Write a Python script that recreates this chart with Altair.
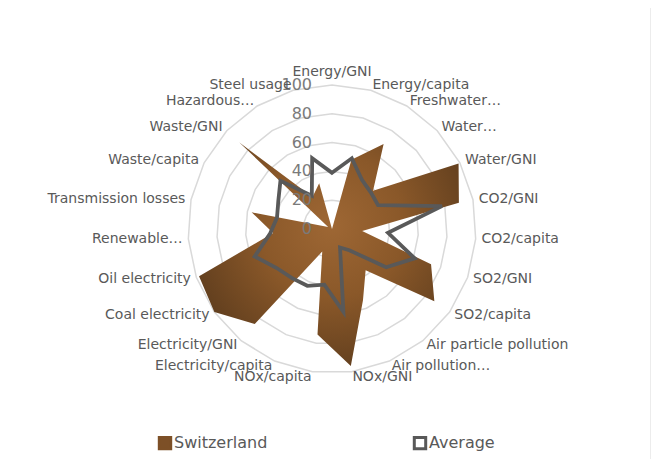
import math
import altair as alt
import pandas as pd

categories = ["Energy/GNI", "Energy/capita", "Freshwater…", "Water…", "Water/GNI",
              "CO2/GNI", "CO2/capita", "SO2/GNI", "SO2/capita", "Air particle pollution",
              "Air pollution…", "NOx/GNI", "NOx/capita", "Electricity/capita",
              "Electricity/GNI", "Coal electricity", "Oil electricity", "Renewable…",
              "Transmission losses", "Waste/capita", "Waste/GNI", "Hazardous…", "Steel usage"]
switzerland = [0, 50, 69, 39, 99, 90, 21, 73, 87, 37, 54, 96, 74, 17, 85, 100, 98, 41, 57, 3, 88, 26, 33]
average = [39, 51, 40, 37, 36, 78, 39, 61, 46, 19, 14, 58, 39, 43, 44, 47, 57, 43, 39, 42, 49, 27, 51]
ticks = [0, 20, 40, 60, 80, 100]
series_names = ["Switzerland", "Average"]

n = len(categories)
ang = [i * 2 * math.pi / n for i in range(n)]

def polar(vals, name):
    return pd.DataFrame({
        "series": name,
        "idx": list(range(n)),
        "cat": categories,
        "v": vals,
        "x": [v * math.sin(a) for v, a in zip(vals, ang)],
        "y": [v * math.cos(a) for v, a in zip(vals, ang)],
    })

sw = polar(switzerland, "Switzerland")
av = polar(average, "Average")

grid_rows = []
for lv in ticks[1:]:
    for i, a in enumerate(ang):
        grid_rows.append({"level": lv, "idx": i, "x": lv * math.sin(a), "y": lv * math.cos(a)})
grid = pd.DataFrame(grid_rows)

LR = 104
lab = pd.DataFrame({
    "cat": categories,
    "s": [math.sin(a) for a in ang],
    "x": [LR * math.sin(a) for a in ang],
    "y": [LR * math.cos(a) for a in ang],
})

tick_df = pd.DataFrame({"t": ticks, "x": [0] * len(ticks), "y": ticks})

PX = 1.44
W, H = 643, 451
CX, CY = 324, 221
xs = alt.Scale(domain=[-CX / PX, (W - CX) / PX], zero=False, nice=False)
ys = alt.Scale(domain=[-(H - CY) / PX, CY / PX], zero=False, nice=False)
X = lambda: alt.X("x:Q", scale=xs, axis=None)
Y = lambda: alt.Y("y:Q", scale=ys, axis=None)

FONT = "DejaVu Sans"

grid_layer = alt.Chart(grid).mark_line(
    color="#d9d9d9", strokeWidth=1.5, interpolate="linear-closed"
).encode(X(), Y(), detail="level:N", order="idx:Q")

grad = alt.Gradient(
    gradient="radial",
    stops=[alt.GradientStop(color="#9e6734", offset=0),
           alt.GradientStop(color="#8a5829", offset=0.45),
           alt.GradientStop(color="#5a3a1c", offset=1)],
    x1=0.51, y1=0.39, r1=0, x2=0.51, y2=0.39, r2=0.62,
)

sw_layer = alt.Chart(sw).mark_line(
    fill=grad, stroke="transparent", strokeWidth=0, interpolate="linear-closed"
).encode(X(), Y(), order="idx:Q")

av_layer = alt.Chart(av).mark_line(
    color="#595959", strokeWidth=3.8, interpolate="linear-closed", strokeJoin="miter"
).encode(X(), Y(), order="idx:Q")

tick_layer = alt.Chart(tick_df).mark_text(
    align="right", baseline="middle", dx=-20, fontSize=16, font=FONT, color="#7a7a7a"
).encode(X(), Y(), text="t:Q")

lab_base = alt.Chart(lab)
lab_right = lab_base.transform_filter("datum.s < -0.05").mark_text(
    align="right", baseline="middle", fontSize=14, font=FONT, color="#595959"
).encode(X(), Y(), text="cat:N")
lab_left = lab_base.transform_filter("datum.s > 0.05").mark_text(
    align="left", baseline="middle", fontSize=14, font=FONT, color="#595959"
).encode(X(), Y(), text="cat:N")
lab_center = lab_base.transform_filter("abs(datum.s) <= 0.05").mark_text(
    align="center", baseline="bottom", fontSize=14, font=FONT, color="#595959"
).encode(X(), Y(), text="cat:N")

def leg():
    return alt.Legend(title=None, orient="none", legendX=149, legendY=427,
                      direction="horizontal", columnPadding=140,
                      symbolType="square", symbolSize=130, symbolStrokeWidth=3,
                      labelFontSize=16, labelFont=FONT, labelColor="#595959",
                      labelOffset=1, padding=0, symbolOpacity=1)

leg_df = pd.DataFrame({"series": series_names, "x": [0, 0], "y": [0, 0]})
legend_layer = alt.Chart(leg_df).transform_filter("datum.x > 1").mark_point(
    shape="square", filled=True
).encode(
    X(), Y(),
    fill=alt.Fill("series:N", scale=alt.Scale(domain=series_names, range=["#7d5027", "#ffffff"]),
                  legend=leg()),
    stroke=alt.Stroke("series:N", scale=alt.Scale(domain=series_names, range=["#7d5027", "#595959"]),
                      legend=leg()),
)

border_df = pd.DataFrame({"k": [0]})
border = alt.Chart(border_df).mark_rule(color="#d9d9d9", strokeWidth=1).encode(
    x=alt.value(-5), y=alt.value(-10), y2=alt.value(H + 10)
) + alt.Chart(border_df).mark_rule(color="#d9d9d9", strokeWidth=1).encode(
    x=alt.value(643), y=alt.value(-10), y2=alt.value(H + 10)
)

chart = alt.layer(
    grid_layer, sw_layer, av_layer, tick_layer, lab_right, lab_left, lab_center,
    legend_layer, border
).properties(
    width=W, height=H, padding=0, autosize=alt.AutoSizeParams(type="none")
).configure_view(strokeWidth=0)

chart.save("out.html", embed_options={"renderer": "svg", "actions": False})
